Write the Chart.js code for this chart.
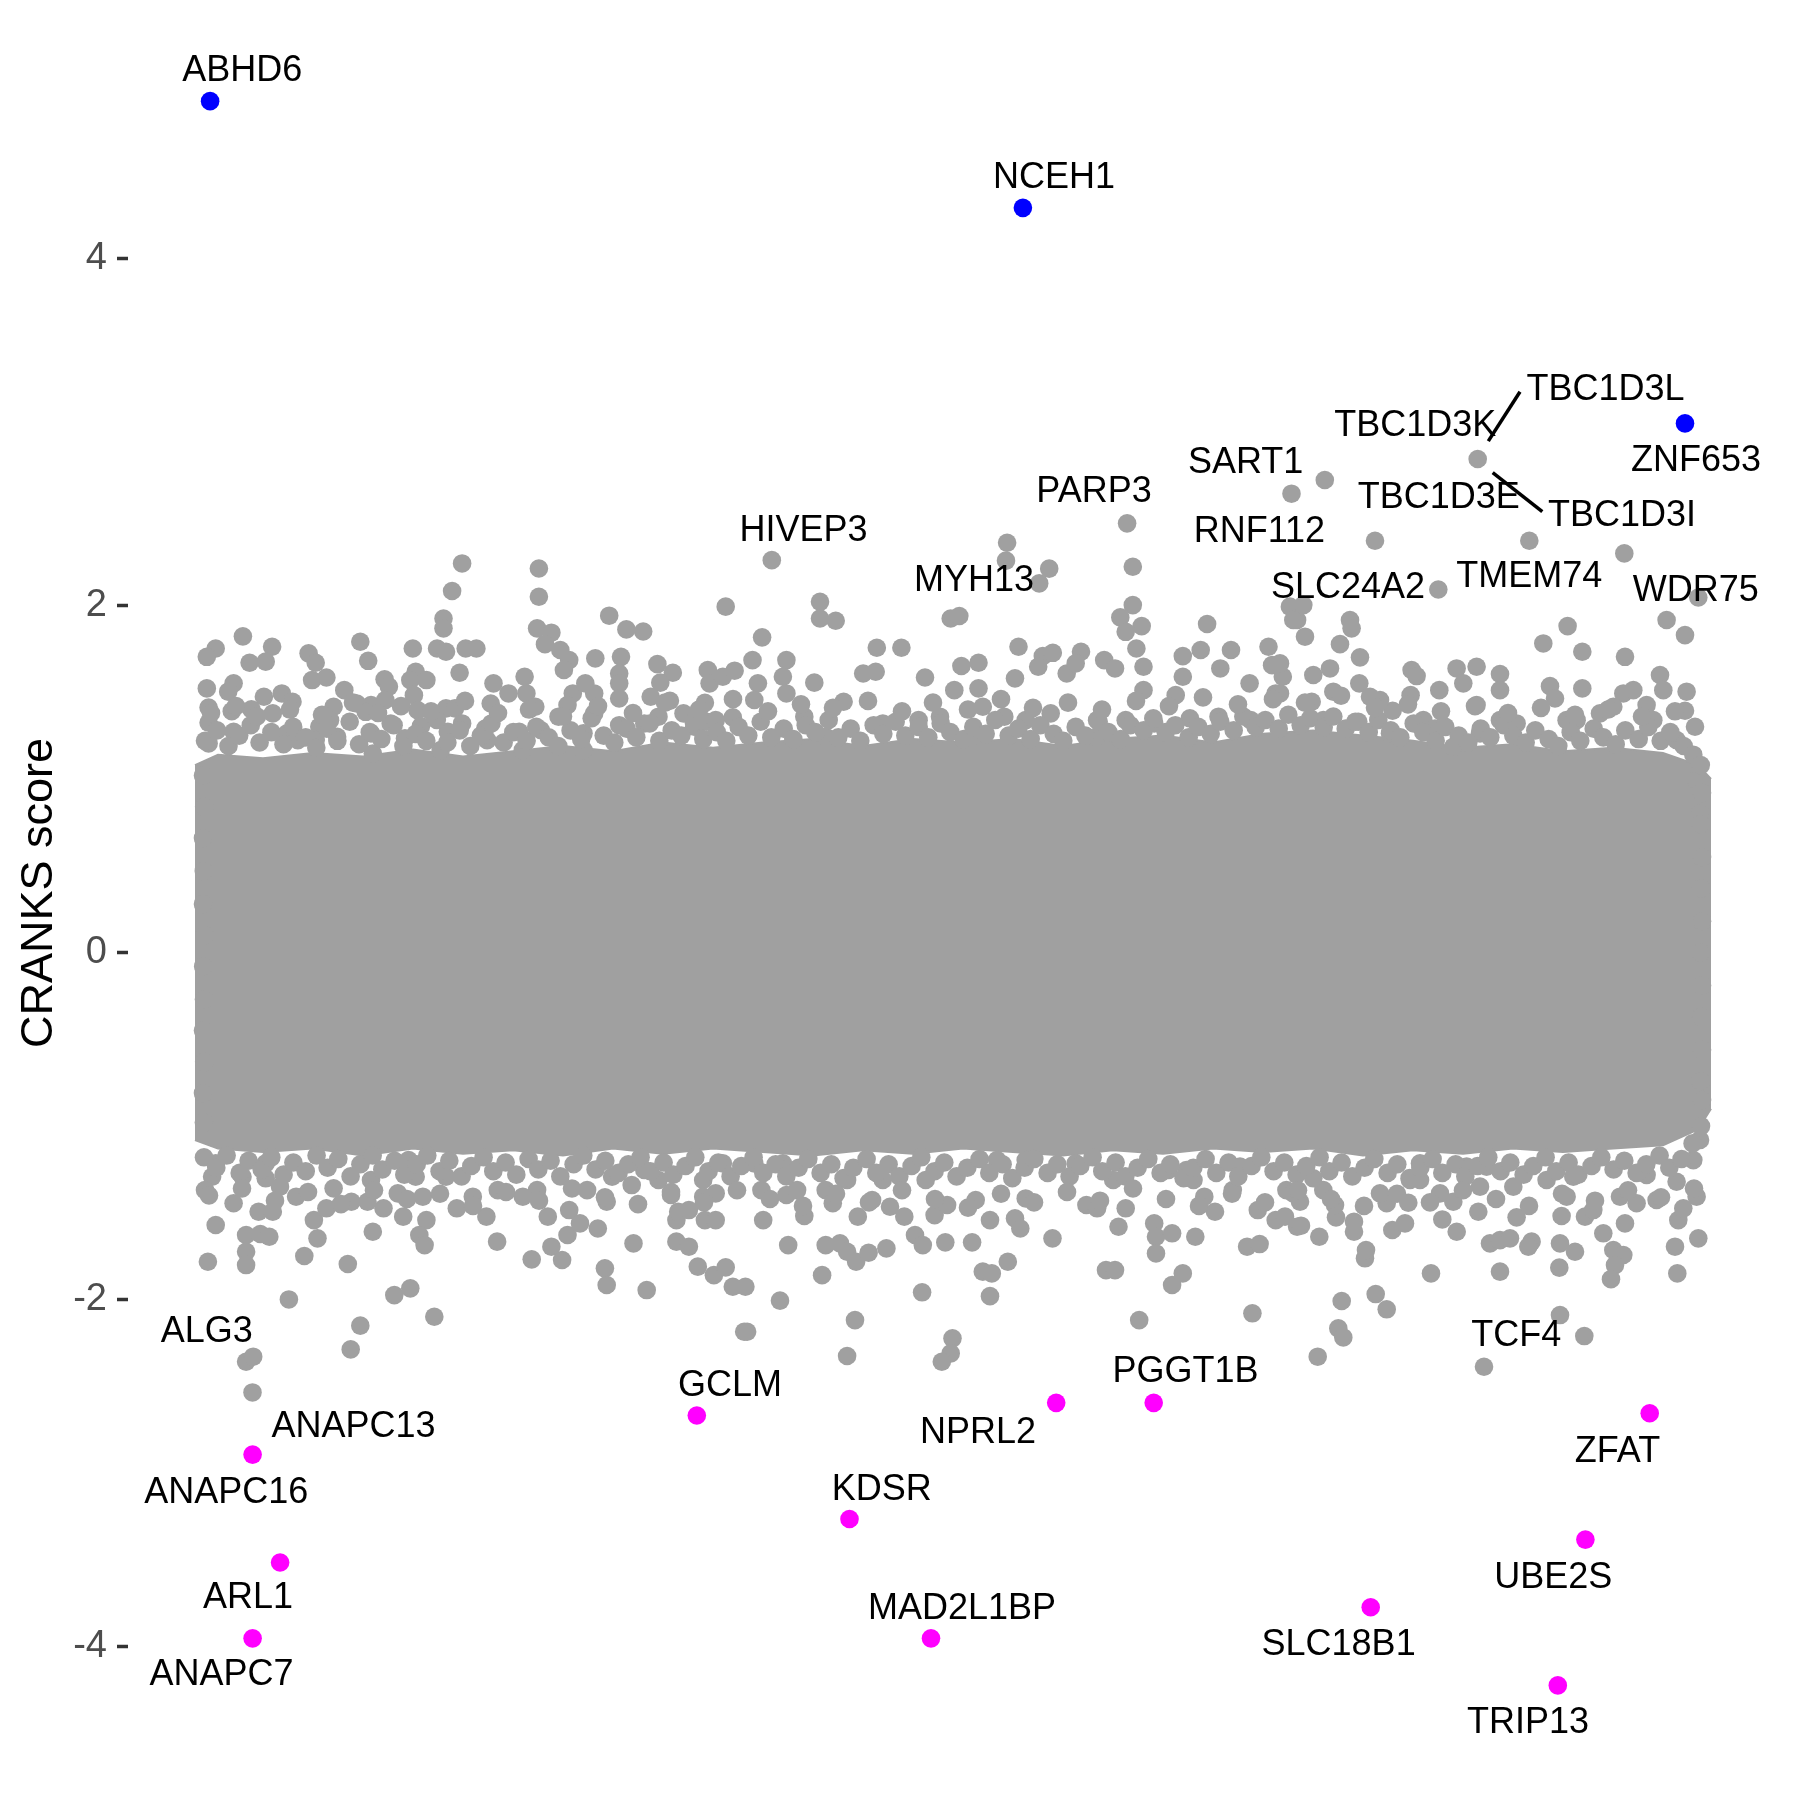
<!DOCTYPE html>
<html>
<head>
<meta charset="utf-8">
<script src="https://cdn.jsdelivr.net/npm/chart.js"></script>
<style>
  html, body { margin: 0; padding: 0; background: #ffffff; }
  #wrap { width: 1800px; height: 1800px; }
</style>
</head>
<body>
<div id="wrap"><canvas id="c" width="1800" height="1800"></canvas></div>
<script>
// ---------------- DATA ----------------
// x: gene index (rank), y: CRANKS score
const yTicks = [-4, -2, 0, 2, 4];

// envelope of the solid (overplotted) core of the cloud
const coreX     = [-80, 150, 600, 1100, 1600, 2100, 2600, 3100, 3600, 4100, 4600, 5100, 5600, 6100, 6600, 7100, 7600, 8100, 8600, 9100, 9600, 10100, 10600, 11100, 11600, 12100, 12600, 13100, 13600, 14100, 14600, 14950, 15080];
const coreUpper = [1.08, 1.14, 1.12, 1.15, 1.13, 1.17, 1.13, 1.16, 1.19, 1.16, 1.21, 1.18, 1.21, 1.23, 1.19, 1.23, 1.21, 1.23, 1.19, 1.23, 1.25, 1.21, 1.26, 1.28, 1.25, 1.22, 1.18, 1.20, 1.16, 1.18, 1.15, 1.08, 1.00];
const coreLower = [-1.08, -1.13, -1.15, -1.13, -1.17, -1.13, -1.16, -1.14, -1.17, -1.13, -1.16, -1.13, -1.15, -1.17, -1.14, -1.16, -1.13, -1.15, -1.17, -1.14, -1.16, -1.13, -1.15, -1.13, -1.17, -1.14, -1.16, -1.13, -1.15, -1.13, -1.11, -1.02, -0.90];

// individual grey genes above the core
const greyHigh = [
[2591,2.242],[2491,2.083],[2405,1.925],[2405,1.868],[2341,1.752],[2430,1.733],[2627,1.752],[2734,1.752],[2566,1.612],[3359,2.213],[3359,2.050],[3341,1.868],[3484,1.843],[3420,1.777],[3573,1.743],[3662,1.685],[3609,1.628],[3923,1.695],[4062,1.941],[4234,1.862],[4402,1.850],[5227,1.993],[4180,1.704],[4162,1.608],[4162,1.551],[4162,1.464],[4544,1.662],[4698,1.612],[4573,1.555],[4477,1.474],[4669,1.451],[5048,1.628],[5066,1.551],[5198,1.589],[5316,1.624],[5019,1.439],[5037,1.330],[5298,1.355],[399,1.822],[691,1.762],[627,1.676],[466,1.670],[127,1.752],[38,1.704],[306,1.551],[252,1.503],[38,1.522],[288,1.391],[56,1.412],[56,1.324],[56,1.205],[306,1.272],[609,1.474],[788,1.493],[895,1.445],[484,1.401],[698,1.378],[1056,1.724],[1127,1.670],[1091,1.570],[1234,1.585],[1413,1.512],[1306,1.416],[1270,1.339],[1163,1.301],[1127,1.224],[1341,1.243],[1573,1.791],[1652,1.681],[1538,1.435],[1680,1.426],[1627,1.387],[1816,1.574],[1859,1.532],[1823,1.455],[1877,1.320],[1680,1.263],[1698,1.147],[2098,1.752],[2127,1.618],[2234,1.570],[2073,1.570],[2109,1.483],[2145,1.397],[2180,1.305],[2020,1.234],[2430,1.407],[2520,1.407],[2591,1.320],[2448,1.272],[2377,1.167],[2905,1.551],[2877,1.435],[3055,1.493],[3216,1.589],[3234,1.493],[3323,1.416],[2823,1.291],[2841,1.224],[3162,1.272],[3377,1.282],[3555,1.359],[3698,1.493],[3645,1.426],[3823,1.551],[3912,1.493],[3912,1.378],[3805,1.263],[4162,1.310],[4413,1.320],[4555,1.359],[4805,1.378],[4912,1.301],[5127,1.339],[841,1.263],[948,1.224],[3198,1.167],[3805,1.167],
[8041,2.361],[8030,2.258],[8462,2.212],[8362,2.127],[5688,2.261],[9241,2.473],[9298,2.223],[9298,2.002],[9173,1.931],[9387,1.881],[9227,1.848],[10041,1.893],[6170,2.021],[6170,1.925],[6327,1.912],[7477,1.925],[7563,1.939],[5591,1.816],[8155,1.762],[6738,1.756],[6984,1.756],[10655,1.762],[5495,1.685],[5834,1.685],[7584,1.651],[7755,1.670],[8398,1.708],[8498,1.727],[8780,1.733],[9012,1.685],[9334,1.752],[9405,1.647],[9798,1.708],[9977,1.743],[10280,1.743],[10173,1.637],[10691,1.656],[6602,1.608],[6727,1.618],[7220,1.585],[8637,1.608],[6113,1.555],[5549,1.551],[5799,1.589],[8120,1.580],[7513,1.512],[7755,1.522],[10466,1.551],[9798,1.589],[9405,1.512],[9727,1.483],[8352,1.647],[8727,1.666],[9120,1.637],[10941,1.916],[10869,1.993],[10798,1.589],[10727,1.493],[5834,1.493],[5513,1.455],[6406,1.445],[6013,1.359],[6798,1.320],[7156,1.339],[7370,1.359],[7798,1.416],[8013,1.359],[8227,1.339],[8477,1.378],[8941,1.339],[9227,1.339],[9512,1.320],[9869,1.349],[10155,1.359],[10477,1.339],[6227,1.243],[7691,1.243],[8941,1.243],
[11720,2.373],[13263,2.373],[14213,2.300],[12353,2.092],[14953,2.046],[14636,1.916],[14820,1.829],[13646,1.881],[13403,1.781],[13793,1.733],[14220,1.704],[13793,1.522],[13470,1.535],[13520,1.464],[12970,1.605],[12970,1.512],[12736,1.647],[12536,1.637],[12603,1.551],[12363,1.512],[12736,1.426],[12086,1.628],[12136,1.593],[12076,1.483],[11896,1.393],[11770,1.455],[11570,1.701],[11563,1.551],[11670,1.474],[11470,1.916],[11486,1.868],[11370,1.777],[11270,1.637],[11103,1.599],[11087,1.445],[11303,1.503],[11020,1.820],[10903,1.916],[11003,2.002],[10770,1.666],[10770,1.493],[12203,1.339],[12320,1.291],[11553,1.330],[11203,1.339],[11870,1.263],[12970,1.339],[13136,1.320],[13636,1.339],[13736,1.339],[13970,1.378],[14203,1.493],[14303,1.512],[14570,1.599],[14603,1.512],[14836,1.503],[14820,1.393],[14920,1.301],[14436,1.426],[14103,1.416],[14503,1.339],[14736,1.224],[14936,0.994],[14970,0.802],[12503,1.186],[12770,1.263],
[10885,2.644],[11218,2.723],[12747,2.844]
];

// estimated genes crowding the upper edge of the core
const greyHighEdge = [
[20,1.22],[140,1.28],[255,1.19],[362,1.25],[478,1.31],[566,1.21],[684,1.27],[805,1.20],[902,1.30],[1027,1.24],[1133,1.18],[1238,1.29],[1344,1.22],[1467,1.33],[1561,1.20],[1668,1.27],[1783,1.23],[1906,1.31],[2004,1.19],[2127,1.26],[2233,1.22],[2338,1.34],[2444,1.21],[2567,1.28],[2673,1.19],[2778,1.25],[2884,1.32],[3006,1.21],[3103,1.27],[3236,1.22],[3333,1.30],[3457,1.24],[3553,1.19],[3676,1.28],[3782,1.23],[3887,1.35],[4007,1.25],[4113,1.21],[4236,1.29],[4333,1.24],[4467,1.32],[4563,1.22],[4687,1.28],[4783,1.25],[4907,1.33],[5003,1.23],[5137,1.27],[5233,1.22],[5357,1.30],[5453,1.25],[5577,1.33],[5683,1.24],[5807,1.29],[5903,1.23],[6027,1.31],[6123,1.27],[6257,1.34],[6353,1.24],[6477,1.29],[6573,1.22],[6707,1.31],[6803,1.26],[6927,1.33],[7023,1.25],[7157,1.30],[7253,1.24],[7377,1.32],[7473,1.27],[7607,1.23],[7703,1.30],[7827,1.26],[7923,1.34],[8057,1.25],[8153,1.29],[8277,1.23],[8373,1.31],[8507,1.26],[8603,1.22],[8727,1.30],[8823,1.25],[8957,1.33],[9053,1.27],[9177,1.23],[9273,1.31],[9407,1.28],[9503,1.35],[9627,1.27],[9723,1.31],[9857,1.24],[9953,1.30],[10077,1.26],[10173,1.33],[10307,1.28],[10403,1.36],[10527,1.30],[10623,1.34],[10757,1.29],[10853,1.37],[10977,1.31],[11073,1.35],[11207,1.30],[11303,1.36],[11427,1.29],[11523,1.33],[11657,1.27],[11753,1.34],[11877,1.28],[11973,1.24],[12107,1.32],[12203,1.27],[12327,1.22],[12423,1.30],[12557,1.25],[12653,1.21],[12777,1.29],[12873,1.24],[13007,1.31],[13103,1.25],[13227,1.21],[13323,1.28],[13457,1.23],[13553,1.19],[13677,1.27],[13773,1.22],[13907,1.29],[14003,1.24],[14127,1.20],[14223,1.28],[14357,1.23],[14453,1.30],[14577,1.22],[14673,1.27],[14807,1.19],[14903,1.14],[14978,1.08],
[80,1.38],[330,1.42],[540,1.36],[870,1.40],[1190,1.37],[1500,1.44],[1750,1.38],[1980,1.42],[2280,1.39],[2620,1.45],[2950,1.38],[3260,1.40],[3600,1.36],[3950,1.42],[4300,1.38],[4620,1.44],[4960,1.40],[5300,1.46],[5650,1.39],[5980,1.43],[6300,1.41],[6650,1.45],[6990,1.39],[7300,1.44],[7650,1.40],[7980,1.46],[8300,1.41],[8650,1.44],[8990,1.40],[9330,1.45],[9660,1.42],[10000,1.47],[10350,1.43],[10700,1.46],[11020,1.44],[11380,1.48],[11720,1.41],[12050,1.43],[12380,1.39],[12720,1.42],[13050,1.38],[13380,1.41],[13720,1.37],[14050,1.40],[14390,1.36],[14720,1.39]
];

// estimated genes along the left and right flanks of the core
const greyFlank = [
[0,1.02],[12,0.84],[0,0.66],[8,0.47],[0,0.28],[14,0.10],[2,-0.08],[10,-0.27],[0,-0.45],[12,-0.63],[0,-0.81],[9,-0.98],
[14990,0.92],[14978,0.74],[14990,0.55],[14982,0.37],[14990,0.18],[14976,0.00],[14990,-0.19],[14982,-0.37],[14990,-0.56],[14976,-0.74],[14990,-0.85]
];

// individual grey genes below the core
const greyLow = [
[127,-1.570],[49,-1.782],[431,-1.628],[431,-1.724],[431,-1.801],[573,-1.622],[663,-1.638],[627,-1.215],[627,-1.301],[770,-1.349],[931,-1.407],[306,-1.445],[556,-1.494],[698,-1.494],[395,-1.292],[91,-1.292],[20,-1.369],[127,-1.215],[859,-1.999],[1013,-1.749],[1145,-1.647],[1109,-1.542],[1234,-1.474],[1306,-1.359],[1448,-1.795],[1573,-2.150],[1477,-2.287],[431,-2.358],[502,-2.329],[495,-2.535],[1698,-1.609],[1484,-1.436],[1645,-1.436],[1805,-1.474],[1680,-1.311],[1948,-1.388],[2002,-1.522],[2234,-1.542],[2163,-1.628],[2216,-1.686],[2073,-1.935],[1913,-1.974],[2313,-2.099],[2056,-1.196],[2127,-1.292],[2198,-1.407],[2430,-1.292],[2538,-1.474],[2698,-1.407],[2834,-1.522],[2941,-1.666],[2948,-1.369],[3287,-1.768],[3448,-1.522],[3484,-1.695],[3591,-1.772],[3645,-1.628],[3662,-1.484],[3770,-1.561],[3948,-1.590],[4037,-1.436],[4019,-1.820],[4037,-1.916],[4437,-1.945],[4305,-1.676],[4287,-1.340],[4091,-1.292],[4413,-1.253],[4555,-1.311],[4680,-1.397],[4734,-1.542],[4752,-1.494],[4859,-1.484],[4734,-1.666],[4859,-1.695],[4948,-1.810],[5109,-1.859],[5227,-1.814],[5298,-1.926],[5019,-1.542],[5127,-1.542],[5002,-1.407],[5002,-1.311],[5127,-1.388],[5198,-1.215],[3341,-1.369],[3198,-1.407],[3841,-1.369],[5412,-2.185],
[5602,-1.542],[5852,-1.686],[6013,-1.518],[6227,-1.686],[6370,-1.676],[6441,-1.724],[6531,-1.782],[6656,-1.730],[6834,-1.705],[6191,-1.859],[5770,-2.006],[5424,-1.926],[5441,-2.185],[6520,-2.118],[6441,-2.325],[7191,-1.958],[7120,-1.628],[7198,-1.686],[7423,-1.670],[7691,-1.670],[7495,-2.223],[7477,-2.310],[7388,-2.358],[7798,-1.839],[7888,-1.849],[8048,-1.782],[7870,-1.980],[8495,-1.647],[9030,-1.830],[9120,-1.830],[9691,-1.916],[9798,-1.849],[9362,-2.118],[10494,-2.079],[9155,-1.580],[9512,-1.561],[9530,-1.638],[9530,-1.734],[9691,-1.618],[9923,-1.638],[10441,-1.695],[10566,-1.680],[8727,-1.215],[8834,-1.455],[8941,-1.474],[9227,-1.474],[10013,-1.407],[10120,-1.494],[10548,-1.484],[10727,-1.542],[10941,-1.580],[5584,-1.369],[5834,-1.397],[5941,-1.369],[6227,-1.369],[6298,-1.445],[6548,-1.522],[6691,-1.426],[6870,-1.465],[7013,-1.522],[7316,-1.513],[7441,-1.455],[7727,-1.426],[7870,-1.542],[8120,-1.532],[8173,-1.590],[8227,-1.417],[9102,-1.311],[10298,-1.369],[10370,-1.234],[9655,-1.253],[9834,-1.253],[8227,-1.196],[7941,-1.196],[7227,-1.311],[6798,-1.311],[6441,-1.311],[5513,-1.215],[5799,-1.215],[9905,-1.311],[10834,-1.369],
[10980,-1.574],[11163,-1.638],[11387,-2.008],[11353,-2.166],[11403,-2.218],[11147,-2.329],[11727,-1.968],[11837,-2.056],[11620,-1.762],[11630,-1.714],[11510,-1.609],[11510,-1.551],[11330,-1.526],[11320,-1.455],[11203,-1.369],[11103,-1.301],[10903,-1.388],[10970,-1.436],[10820,-1.522],[11893,-1.599],[12020,-1.561],[12053,-1.442],[11837,-1.445],[11770,-1.388],[12070,-1.311],[12170,-1.311],[12280,-1.849],[12393,-1.538],[12537,-1.609],[12503,-1.436],[12370,-1.388],[12753,-1.494],[12770,-1.349],[12870,-1.676],[12970,-1.657],[13070,-1.647],[13136,-1.526],[13286,-1.666],[13253,-1.695],[12970,-1.839],[13570,-2.089],[13813,-2.210],[12810,-2.387],[13563,-1.816],[13570,-1.676],[13720,-1.724],[13586,-1.518],[13820,-1.522],[14003,-1.618],[14103,-1.714],[14203,-1.743],[14120,-1.801],[14080,-1.882],[14220,-1.561],[14170,-1.407],[14336,-1.445],[14536,-1.426],[14720,-1.695],[14743,-1.849],[14953,-1.647],[14753,-1.542],[14803,-1.474],[14936,-1.407],[14736,-1.321],[14903,-1.196],[14970,-1.080],[14436,-1.282],[13703,-1.292],[13436,-1.311],[13103,-1.349],[12836,-1.234],[12636,-1.234],[12170,-1.215],[13636,-1.407],[13903,-1.484]
];

// estimated genes crowding the lower edge of the core
const greyLowEdge = [
[10,-1.18],[133,-1.24],[236,-1.17],[367,-1.27],[456,-1.20],[587,-1.25],[683,-1.18],[806,-1.28],[904,-1.21],[1027,-1.26],[1136,-1.17],[1246,-1.24],[1353,-1.19],[1476,-1.29],[1574,-1.22],[1697,-1.17],[1793,-1.25],[1916,-1.20],[2013,-1.28],[2137,-1.22],[2243,-1.17],[2366,-1.26],[2463,-1.20],[2586,-1.29],[2683,-1.23],[2806,-1.18],[2903,-1.26],[3026,-1.21],[3133,-1.28],[3256,-1.19],[3353,-1.25],[3476,-1.20],[3573,-1.29],[3706,-1.22],[3803,-1.17],[3926,-1.25],[4023,-1.20],[4156,-1.27],[4253,-1.22],[4376,-1.18],[4473,-1.26],[4606,-1.21],[4703,-1.28],[4826,-1.23],[4923,-1.18],[5056,-1.26],[5153,-1.21],[5276,-1.29],[5383,-1.23],[5506,-1.18],[5603,-1.27],[5726,-1.22],[5833,-1.29],[5956,-1.24],[6053,-1.19],[6176,-1.27],[6283,-1.22],[6406,-1.30],[6503,-1.24],[6636,-1.19],[6733,-1.27],[6856,-1.22],[6963,-1.29],[7086,-1.23],[7183,-1.18],[7316,-1.26],[7413,-1.21],[7536,-1.29],[7643,-1.24],[7766,-1.19],[7863,-1.27],[7996,-1.22],[8093,-1.30],[8216,-1.24],[8313,-1.19],[8446,-1.27],[8543,-1.22],[8666,-1.29],[8773,-1.23],[8896,-1.18],[8993,-1.26],[9126,-1.21],[9223,-1.29],[9346,-1.24],[9453,-1.19],[9576,-1.27],[9673,-1.22],[9806,-1.30],[9903,-1.24],[10026,-1.19],[10133,-1.27],[10256,-1.21],[10353,-1.29],[10486,-1.23],[10583,-1.18],[10706,-1.26],[10813,-1.21],[10936,-1.28],[11033,-1.23],[11166,-1.18],[11263,-1.26],[11386,-1.21],[11493,-1.29],[11616,-1.24],[11713,-1.19],[11846,-1.27],[11943,-1.22],[12066,-1.30],[12173,-1.24],[12296,-1.19],[12393,-1.27],[12526,-1.22],[12623,-1.29],[12746,-1.23],[12853,-1.18],[12976,-1.26],[13073,-1.21],[13206,-1.28],[13303,-1.23],[13426,-1.18],[13533,-1.26],[13656,-1.21],[13753,-1.28],[13886,-1.23],[13983,-1.18],[14106,-1.25],[14213,-1.20],[14336,-1.27],[14433,-1.22],[14566,-1.17],[14663,-1.24],[14786,-1.19],[14896,-1.10],[14980,-1.00],
[60,-1.40],[390,-1.36],[720,-1.43],[1050,-1.38],[1380,-1.45],[1710,-1.37],[2040,-1.42],[2370,-1.39],[2700,-1.46],[3030,-1.38],[3360,-1.43],[3690,-1.36],[4020,-1.41],[4350,-1.45],[4680,-1.38],[5010,-1.44],[5340,-1.37],[5670,-1.42],[6000,-1.46],[6330,-1.39],[6660,-1.44],[6990,-1.37],[7320,-1.42],[7650,-1.47],[7980,-1.39],[8310,-1.44],[8640,-1.38],[8970,-1.43],[9300,-1.36],[9630,-1.42],[9960,-1.46],[10290,-1.39],[10620,-1.44],[10950,-1.37],[11280,-1.42],[11610,-1.46],[11940,-1.39],[12270,-1.44],[12600,-1.37],[12930,-1.42],[13260,-1.46],[13590,-1.39],[13920,-1.43],[14250,-1.37],[14580,-1.41],[14910,-1.36]
];

// highlighted genes
const upGenes   = ['ABHD6', 'NCEH1', 'ZNF653'];
const upX       = [71, 8199, 14820];
const upY       = [4.906, 4.291, 3.049];
const downX     = [496, 771, 496, 4938, 6465, 7280, 8532, 9507, 11677, 13548, 13824, 14467];
const downY     = [-2.893, -3.515, -3.952, -2.668, -3.264, -3.952, -2.595, -2.595, -3.773, -4.223, -3.383, -2.655];

// gene labels (text anchor positions, in data units)
const labelText = ['ABHD6','NCEH1','TBC1D3L','TBC1D3K','ZNF653','SART1','PARP3','TBC1D3E','TBC1D3I','HIVEP3','RNF112','MYH13','SLC24A2','TMEM74','WDR75','ALG3','GCLM','PGGT1B','TCF4','ANAPC13','NPRL2','ZFAT','ANAPC16','KDSR','UBE2S','ARL1','MAD2L1BP','SLC18B1','ANAPC7','TRIP13'];
const labelX    = [392, 8509, 14025, 12123, 14930, 10426, 8910, 12357, 14190, 6006, 10564, 7710, 11450, 13263, 14927, 37, 5271, 9826, 13133, 1506, 7751, 14145, 232, 6787, 13502, 450, 7590, 11356, 186, 13250];
const labelY    = [5.091, 4.476, 3.254, 3.047, 2.849, 2.835, 2.670, 2.632, 2.527, 2.445, 2.438, 2.155, 2.112, 2.175, 2.098, -2.175, -2.483, -2.406, -2.194, -2.721, -2.754, -2.867, -3.098, -3.085, -3.588, -3.707, -3.766, -3.978, -4.150, -4.428];

// repel connector segments [x1, y1, x2, y2]
const segments = [[12853, 2.947, 13170, 3.231], [12897, 2.765, 13393, 2.540]];

// ---------------- CHART ----------------
const FONT = '"Liberation Sans", Arial, Helvetica, sans-serif';
const GREY = '#A0A0A0';
const R = 9.3;
const toXY = arr => arr.map(p => ({x: p[0], y: p[1]}));

const labelPlugin = {
  id: 'geneLabels',
  afterDatasetsDraw(chart) {
    const {ctx, scales} = chart;
    ctx.save();
    ctx.font = '36px ' + FONT;
    ctx.fillStyle = '#000000';
    ctx.textAlign = 'center';
    ctx.textBaseline = 'middle';
    labelText.forEach((t, i) => {
      ctx.fillText(t, scales.x.getPixelForValue(labelX[i]), scales.y.getPixelForValue(labelY[i]) + 2.5);
    });
    ctx.restore();
  }
};

const segDatasets = segments.map(s => ({
  type: 'line',
  data: [{x: s[0], y: s[1]}, {x: s[2], y: s[3]}],
  borderColor: '#000000', borderWidth: 3.5, pointRadius: 0, fill: false
}));

const greyAll = toXY(greyHigh).concat(toXY(greyHighEdge), toXY(greyFlank), toXY(greyLow), toXY(greyLowEdge));

new Chart(document.getElementById('c'), {
  type: 'scatter',
  data: {
    datasets: [
      ...segDatasets,
      { data: upX.map((x, i) => ({x, y: upY[i]})), backgroundColor: '#0000FF', borderWidth: 0, pointRadius: R },
      { data: downX.map((x, i) => ({x, y: downY[i]})), backgroundColor: '#FF00FF', borderWidth: 0, pointRadius: R },
      { data: greyAll, backgroundColor: GREY, borderWidth: 0, pointRadius: R },
      { type: 'line', data: coreX.map((x, i) => ({x, y: coreUpper[i]})), borderColor: GREY, borderWidth: 2, backgroundColor: GREY, pointRadius: 0, fill: '+1' },
      { type: 'line', data: coreX.map((x, i) => ({x, y: coreLower[i]})), borderColor: GREY, borderWidth: 2, pointRadius: 0, fill: false }
    ]
  },
  options: {
    responsive: false,
    animation: false,
    events: [],
    devicePixelRatio: 1,
    layout: { padding: { left: 0, right: 23, top: 22, bottom: 36 } },
    plugins: { legend: { display: false }, tooltip: { enabled: false }, title: { display: false } },
    scales: {
      x: { type: 'linear', min: -750, max: 15740, display: false },
      y: {
        type: 'linear', min: -4.676, max: 5.362,
        afterBuildTicks: s => { s.ticks = yTicks.map(v => ({value: v})); },
        afterFit: s => { s.width = 128; s.paddingTop = 0; s.paddingBottom = 0; },
        border: { display: false },
        grid: { drawOnChartArea: false, drawTicks: true, tickLength: 11, tickWidth: 3.5, tickColor: '#333333' },
        ticks: { color: '#4D4D4D', padding: 10, font: { family: FONT, size: 38 }, callback: v => String(v) },
        title: { display: true, text: 'CRANKS score', color: '#000000', font: { family: FONT, size: 45 }, padding: { top: 13, bottom: 0 } }
      }
    }
  },
  plugins: [labelPlugin]
});
</script>
</body>
</html>
